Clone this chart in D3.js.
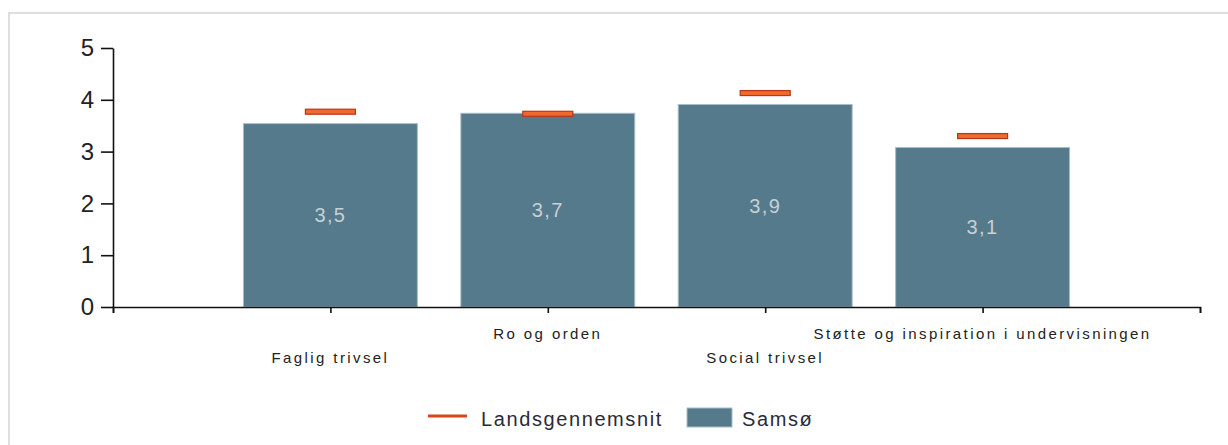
<!DOCTYPE html>
<html>
<head>
<meta charset="utf-8">
<script src="https://cdn.jsdelivr.net/npm/d3@7"></script>
<style>
  html, body { margin: 0; padding: 0; background: #fff; }
  svg { display: block; font-family: "Liberation Sans", Arial, sans-serif; }
</style>
</head>
<body>
<svg id="chart" width="1228" height="445"></svg>
<script>
// ---- data ----
const categories = ["Faglig trivsel", "Ro og orden", "Social trivsel", "Støtte og inspiration i undervisningen"];
const samsoValues = [3.54, 3.74, 3.91, 3.08];
const landsValues = [3.77, 3.73, 4.13, 3.30];
const yTicks = [0, 1, 2, 3, 4, 5];
const seriesNames = ["Landsgennemsnit", "Samsø"];

// ---- layout ----
const svg = d3.select("#chart");
const barColor = "#557a8b";
const barStroke = "#a9bdc6";
const markerFill = "#ef6a2c";
const markerStroke = "#b8361a";
const x0 = 113, x1 = 1200, yBase = 307, yTop = 48;

// frame
svg.append("rect").attr("x", 9).attr("y", 13).attr("width", 1400).attr("height", 600)
  .attr("fill", "none").attr("stroke", "#dedede").attr("stroke-width", 2);

const x = d3.scaleLinear().domain([0, categories.length + 1]).range([x0, x1]);
const y = d3.scaleLinear().domain([0, 5]).range([yBase, yTop]);
const band = x(1) - x(0);
const fmt = v => d3.format(".1f")(v).replace(".", ",");

// bars
const g = svg.append("g");
g.selectAll("rect.bar").data(samsoValues).join("rect")
  .attr("class", "bar")
  .attr("x", (d, i) => x(i + 1) - band * 0.4)
  .attr("width", band * 0.8)
  .attr("y", d => y(d))
  .attr("height", d => y(0) - y(d))
  .attr("fill", barColor)
  .attr("stroke", barStroke)
  .attr("stroke-width", 1);

// bar labels
g.selectAll("text.val").data(samsoValues).join("text")
  .attr("class", "val")
  .attr("x", (d, i) => x(i + 1))
  .attr("y", d => (y(d) + y(0)) / 2 + 7)
  .attr("text-anchor", "middle")
  .attr("font-size", 20)
  .attr("letter-spacing", 1.4)
  .attr("fill", "#c6d0d5")
  .text(d => fmt(d));

// national average markers
g.selectAll("rect.mark").data(landsValues).join("rect")
  .attr("class", "mark")
  .attr("x", (d, i) => x(i + 1) - band * 0.115)
  .attr("width", band * 0.23)
  .attr("y", d => y(d) - 2.5)
  .attr("height", 5)
  .attr("fill", markerFill)
  .attr("stroke", markerStroke)
  .attr("stroke-width", 1.2);

// y axis
const yAxis = svg.append("g").attr("transform", `translate(${x0},0)`)
  .call(d3.axisLeft(y).tickValues(yTicks).tickFormat(d3.format("d")).tickSize(12).tickSizeOuter(0).tickPadding(7));
yAxis.selectAll("line, path").attr("stroke", "#111").attr("stroke-width", 1.6);
yAxis.selectAll("text").attr("font-size", 24).attr("fill", "#222")
  .attr("font-family", "'Liberation Sans', Arial, sans-serif");

// x axis
const xTickVals = d3.range(0, categories.length + 2);
const xAxis = svg.append("g").attr("transform", `translate(0,${yBase})`)
  .call(d3.axisBottom(x).tickValues(xTickVals).tickFormat("").tickSize(6).tickSizeOuter(6));
xAxis.selectAll("line, path").attr("stroke", "#111").attr("stroke-width", 1.6);

// category labels (staggered)
svg.append("g").selectAll("text").data(categories).join("text")
  .attr("x", (d, i) => x(i + 1))
  .attr("y", (d, i) => i % 2 === 0 ? 363 : 339)
  .attr("text-anchor", "middle")
  .attr("font-size", 15)
  .attr("letter-spacing", 2.4)
  .attr("fill", "#222")
  .text(d => d);

// legend
const leg = svg.append("g");
leg.append("line").attr("x1", 428).attr("x2", 467).attr("y1", 416).attr("y2", 416)
  .attr("stroke", "#d4461c").attr("stroke-width", 3);
leg.append("text").attr("x", 481).attr("y", 426).attr("font-size", 20).attr("letter-spacing", 1.6)
  .attr("fill", "#2a2a3a").text(seriesNames[0]);
leg.append("rect").attr("x", 687).attr("y", 408).attr("width", 45).attr("height", 19)
  .attr("fill", barColor).attr("stroke", barStroke).attr("stroke-width", 1);
leg.append("text").attr("x", 742).attr("y", 426).attr("font-size", 20).attr("letter-spacing", 1.6)
  .attr("fill", "#2a2a3a").text(seriesNames[1]);
</script>
</body>
</html>
